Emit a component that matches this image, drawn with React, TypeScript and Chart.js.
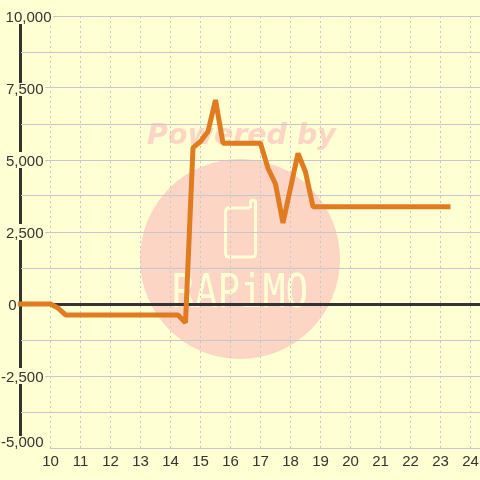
import React, { useEffect, useRef } from "react";
import { Chart, registerables } from "chart.js";

Chart.register(...registerables);

const hours = [9, 10, 10.25, 10.5, 14.25, 14.5, 14.75, 15, 15.25, 15.5, 15.75, 17, 17.25, 17.5, 17.75, 18, 18.25, 18.5, 18.75, 23.25];
const values = [0, 0, -140, -380, -380, -650, 5430, 5640, 5990, 7083, 5580, 5580, 4712, 4167, 2812, 4028, 5232, 4583, 3380, 3380];
const yMin = -5000;
const yMax = 10000;
const yStep = 1250;
const yLabelEvery = 2500;
const xMin = 9;
const xMax = 24.3167;

const BG = "#ffffd4";
const GRID = "#c8c8cc";
const DARK = "#333333";
const ORANGE = "#e07b20";
const PINK = "#fdd5c4";

const labelPlacement: Record<string, { right: number; maskRight: number; top: number; bottom: number; dy: number }> = {
  "10,000": { right: 51.5, maskRight: 53, top: -8, bottom: 8, dy: 2 },
  "7,500": { right: 43.5, maskRight: 45, top: -5, bottom: 8, dy: 2 },
  "5,000": { right: 43.5, maskRight: 45, top: -8, bottom: 8, dy: 2 },
  "2,500": { right: 43.5, maskRight: 45, top: -8, bottom: 8, dy: 2 },
  "0": { right: 16.5, maskRight: 0, top: 0, bottom: 0, dy: 2 },
  "-2,500": { right: 43.5, maskRight: 45, top: -8, bottom: 8, dy: 2 },
  "-5,000": { right: 43.5, maskRight: 50, top: -12, bottom: 2, dy: -5 },
};

const backdropPlugin = {
  id: "pageBackdrop",
  beforeDraw(chart: any) {
    const { ctx } = chart;
    ctx.save();
    ctx.fillStyle = BG;
    ctx.fillRect(0, 0, chart.width, chart.height);

    ctx.fillStyle = PINK;
    ctx.beginPath();
    ctx.arc(240, 259, 100, 0, Math.PI * 2);
    ctx.fill();

    ctx.font = "italic bold 28.5px 'DejaVu Sans'";
    ctx.textAlign = "center";
    ctx.textBaseline = "alphabetic";
    ctx.fillText("Powered by", 241.5, 144);

    ctx.strokeStyle = BG;
    ctx.lineWidth = 3;
    ctx.lineJoin = "round";
    ctx.beginPath();
    ctx.moveTo(250, 208);
    ctx.lineTo(229, 208);
    ctx.quadraticCurveTo(225.5, 208, 225.5, 212);
    ctx.lineTo(225.5, 253);
    ctx.quadraticCurveTo(225.5, 257, 229, 257);
    ctx.lineTo(252, 257);
    ctx.quadraticCurveTo(255.5, 257, 255.5, 253);
    ctx.lineTo(255.5, 202);
    ctx.quadraticCurveTo(255.5, 200, 253, 200);
    ctx.quadraticCurveTo(250.5, 200, 250.5, 202);
    ctx.lineTo(250.5, 208);
    ctx.stroke();

    ctx.fillStyle = BG;
    ctx.font = "46px 'DejaVu Sans Mono'";
    ctx.textAlign = "left";
    ctx.translate(172, 307);
    ctx.scale(0.82, 1);
    ctx.fillText("RAPiMO", 0, 0);
    ctx.restore();

    const yScale = chart.scales.y;
    for (const item of yScale.getLabelItems()) {
      const place = labelPlacement[String(item.label)];
      if (!place) continue;
      const tickY = yScale.getPixelForValue(Number(String(item.label).replace(",", "")));
      item.options.textAlign = "right";
      item.options.textBaseline = "middle";
      item.textOffset = 0;
      item.options.translation = [place.right, tickY + place.dy];
      item.options.backdrop = place.maskRight
        ? { left: -place.right, top: place.top - place.dy, width: place.maskRight, height: place.bottom - place.top, color: BG }
        : undefined;
    }
  },
};

export default function App() {
  const ref = useRef<HTMLCanvasElement>(null);
  useEffect(() => {
    document.body.style.margin = "0";
    const chart = new Chart(ref.current as HTMLCanvasElement, {
      type: "line",
      plugins: [backdropPlugin],
      data: {
        datasets: [
          {
            data: hours.map((h, i) => ({ x: h, y: values[i] })),
            borderColor: ORANGE,
            borderWidth: 5,
            pointRadius: 0,
            tension: 0,
            fill: false,
            clip: false,
            borderJoinStyle: "bevel",
            borderCapStyle: "square",
          },
        ],
      },
      options: {
        responsive: false,
        animation: false,
        layout: { padding: { top: 16, left: 0, right: 0, bottom: 0 } },
        plugins: { legend: { display: false }, title: { display: false }, tooltip: { enabled: false } },
        scales: {
          x: {
            type: "linear",
            min: xMin,
            max: xMax,
            afterFit: (s: any) => { s.height = 32; s.paddingRight = 0; s.paddingLeft = 0; },
            border: { display: false, dash: (c: any) => (c.tick && c.tick.value === xMin ? [] : [2, 3]) },
            grid: {
              drawTicks: false,
              color: (c: any) => (c.tick && c.tick.value === xMin ? DARK : GRID),
              lineWidth: (c: any) => (c.tick && c.tick.value === xMin ? 3 : 1),
            },
            ticks: {
              stepSize: 1,
              includeBounds: false,
              autoSkip: false,
              maxRotation: 0,
              padding: 5,
              color: DARK,
              font: { family: "'Liberation Sans'", size: 15 },
              callback: (v: any) => (v === xMin ? "" : String(v)),
            },
          },
          y: {
            type: "linear",
            min: yMin,
            max: yMax,
            afterFit: (s: any) => { s.width = 20.5; },
            border: { display: false },
            grid: {
              drawTicks: false,
              color: (c: any) => (c.tick && c.tick.value === 0 ? DARK : GRID),
              lineWidth: (c: any) => (c.tick && c.tick.value === 0 ? 3 : 1),
            },
            ticks: {
              stepSize: yStep,
              autoSkip: false,
              mirror: true,
              padding: 0,
              color: DARK,
              font: { family: "'Liberation Sans'", size: 15 },
              callback: (v: any) => (Number(v) % yLabelEvery === 0 ? Number(v).toLocaleString("en-US") : ""),
            },
          },
        },
      },
    } as any);
    return () => chart.destroy();
  }, []);
  return <canvas ref={ref} width={480} height={480} style={{ display: "block" }} />;
}
